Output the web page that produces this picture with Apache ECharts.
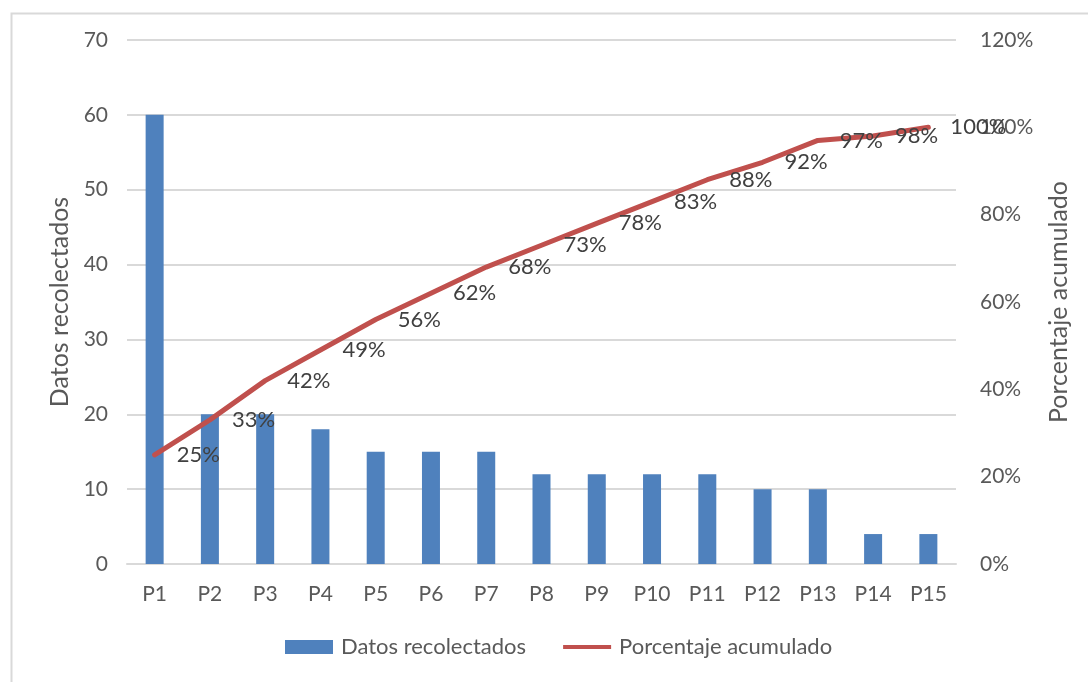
<!DOCTYPE html>
<html>
<head>
<meta charset="utf-8">
<script src="https://cdn.jsdelivr.net/npm/echarts@6/dist/echarts.min.js"></script>
<style>
  html, body { margin: 0; padding: 0; background: #fff; }
  #chart { width: 1088px; height: 682px; }
</style>
</head>
<body>
<div id="chart"></div>
<script>
// Pareto data: counts per category and cumulative share (%)
const categories = ['P1', 'P2', 'P3', 'P4', 'P5', 'P6', 'P7', 'P8', 'P9', 'P10', 'P11', 'P12', 'P13', 'P14', 'P15'];
const datosRecolectados = [60, 20, 20, 18, 15, 15, 15, 12, 12, 12, 12, 10, 10, 4, 4];
const porcentajeAcumulado = [25, 33, 42, 49, 56, 62, 68, 73, 78, 83, 88, 92, 97, 98, 100];
const leftTicks = { min: 0, max: 70, interval: 10 };
const rightTicks = { min: 0, max: 120, interval: 20 };

const FONT = 'Lato';
const TEXT = '#595959';
const GRID_LINE = '#D9D9D9';

// Legend swatch for the line: a thin bar centred in a 48x14 box
const LINE_ICON = 'path://M0,0M48,14M0,5L48,5L48,9L0,9Z';

const chart = echarts.init(document.getElementById('chart'));
chart.setOption({
  animation: false,
  backgroundColor: '#fff',
  textStyle: { fontFamily: FONT },
  graphic: [{
    type: 'rect',
    left: 9, top: 11,
    shape: { width: 1200, height: 800 },
    style: { fill: 'none', stroke: GRID_LINE, lineWidth: 2 },
    silent: true
  }],
  grid: { left: 127, right: 132, top: 40, bottom: 118, containLabel: false, outerBoundsMode: 'none' },
  legend: {
    left: 285, top: 636, padding: 0,
    itemWidth: 48, itemHeight: 14, itemGap: 37,
    textStyle: { color: TEXT, fontSize: 22, fontFamily: FONT, padding: [0, 0, 0, 3] },
    data: [
      { name: 'Datos recolectados', icon: 'rect' },
      { name: 'Porcentaje acumulado', icon: LINE_ICON }
    ]
  },
  xAxis: {
    type: 'category',
    data: categories,
    axisTick: { show: false },
    axisLine: { lineStyle: { color: GRID_LINE, width: 2 } },
    axisLabel: { color: TEXT, fontSize: 21, margin: 20, fontFamily: FONT }
  },
  yAxis: [{
    type: 'value',
    min: leftTicks.min, max: leftTicks.max, interval: leftTicks.interval,
    name: 'Datos recolectados',
    nameLocation: 'middle', nameRotate: 90, nameGap: 52,
    nameTextStyle: { color: TEXT, fontSize: 25, fontFamily: FONT },
    axisLine: { show: false }, axisTick: { show: false },
    axisLabel: { color: TEXT, fontSize: 21, margin: 19, fontFamily: FONT },
    splitLine: { lineStyle: { color: GRID_LINE, width: 2 } }
  }, {
    type: 'value',
    min: rightTicks.min, max: rightTicks.max, interval: rightTicks.interval,
    name: 'Porcentaje acumulado',
    nameLocation: 'middle', nameRotate: 90, nameGap: 90,
    nameTextStyle: { color: TEXT, fontSize: 25, fontFamily: FONT },
    axisLine: { show: false }, axisTick: { show: false },
    axisLabel: { color: TEXT, fontSize: 21, margin: 24, fontFamily: FONT, formatter: '{value}%' },
    splitLine: { show: false }
  }],
  series: [{
    name: 'Datos recolectados',
    type: 'bar',
    data: datosRecolectados,
    barWidth: 18,
    itemStyle: { color: '#4F81BD' }
  }, {
    name: 'Porcentaje acumulado',
    type: 'line',
    yAxisIndex: 1,
    data: porcentajeAcumulado,
    symbol: 'circle',
    symbolSize: 0.01,
    showSymbol: true,
    lineStyle: { color: '#C0504D', width: 5, cap: 'round', join: 'round' },
    itemStyle: { color: '#C0504D' },
    label: {
      show: true, position: 'right', distance: 22,
      color: '#404040', fontSize: 22, fontFamily: FONT,
      formatter: p => p.value + '%'
    },
    labelLayout: { hideOverlap: false }
  }]
});
</script>
</body>
</html>
